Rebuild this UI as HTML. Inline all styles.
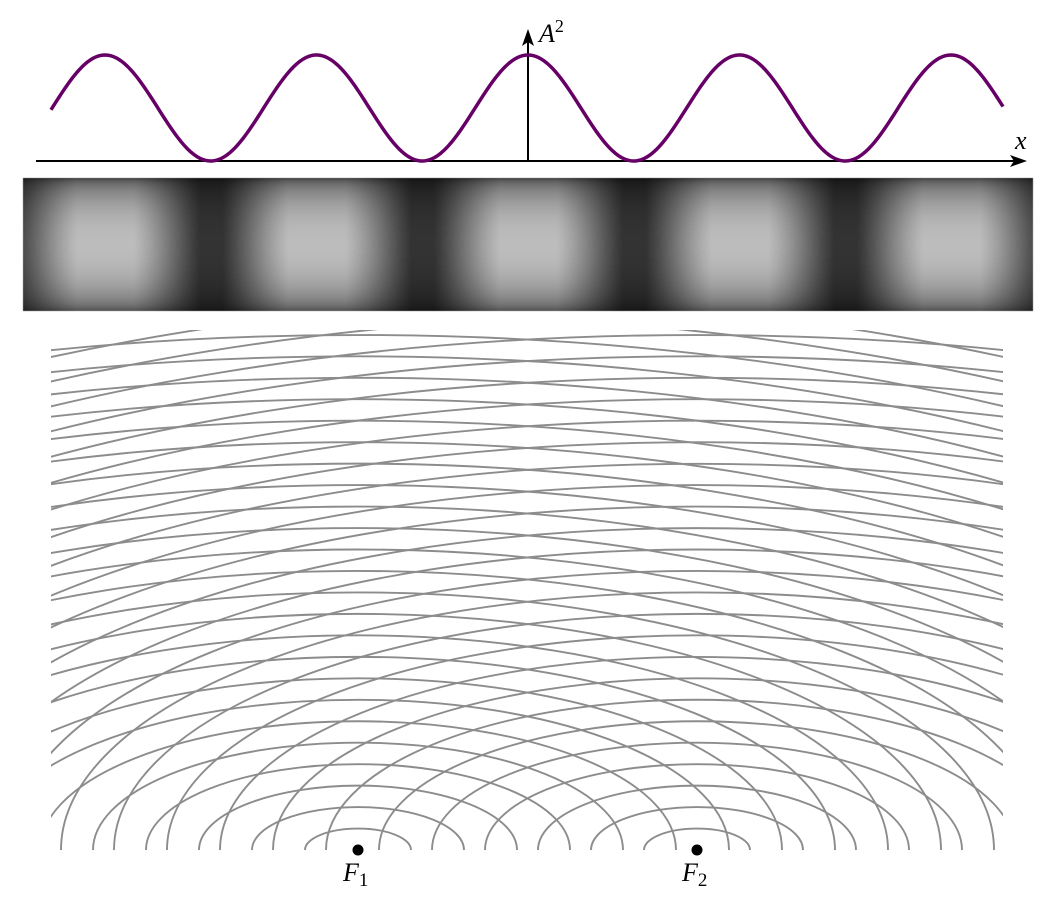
<!DOCTYPE html>
<html><head><meta charset="utf-8">
<style>
html,body{margin:0;padding:0;background:#fff;}
#wrap{position:relative;width:1057px;height:908px;overflow:hidden;}
svg,canvas{position:absolute;left:0;top:0;}
.lbl{font-family:"Liberation Serif",serif;font-style:italic;font-size:26px;fill:#000;}
</style></head>
<body>
<div id="wrap">
<canvas id="band" width="1057" height="908"></canvas>
<svg id="svg" width="1057" height="908">
  <defs><clipPath id="clip"><rect x="51" y="330" width="952" height="520"/></clipPath></defs>
  <g id="rings" clip-path="url(#clip)"></g>
  <g id="topplot"></g>
</svg>
</div>
<script>
// data
const sources = [358, 697];
const sourceLabels = ["F", "F"];
const sourceSubs = ["1", "2"];
const ringCount = [26];
const ringStep = [53];
const ringAspect = [0.405];
const fringePeriod = [211.5];
const centerX = [528];

const NS = "http://www.w3.org/2000/svg";
function mk(tag, attrs, parent){const e=document.createElementNS(NS,tag);for(const k in attrs)e.setAttribute(k,attrs[k]);parent.appendChild(e);return e;}
const baseY = 850;
const rings = document.getElementById('rings');
sources.forEach((sx, si) => {
  for (let n = 1; n <= ringCount[0]; n++) {
    const rx = n * ringStep[0], ry = rx * ringAspect[0];
    const p = mk('path', {d:`M${sx-rx},${baseY} A${rx},${ry} 0 0 1 ${sx+rx},${baseY}`, fill:'none', stroke:'#8c8c8c', 'stroke-width':'1.9'}, rings);
    
    
  }
});
const svgEl = document.getElementById('svg');
sources.forEach((sx, si) => {
  const c = mk('circle', {cx:sx, cy:baseY, r:5.5, fill:'#000'}, svgEl);
  
  
  const t = mk('text', {x:sx-15, y:baseY+31, class:'lbl'}, svgEl);
  
  
  t.textContent = sourceLabels[si];
  const s = mk('tspan', {dy:5, 'font-size':19, 'font-style':'normal'}, t);
  s.textContent = sourceSubs[si];
});

const topG = document.getElementById('topplot');
const axY = 161, ampTop = 55;
function yOf(x){const c=Math.cos(Math.PI*(x-centerX[0])/fringePeriod[0]);return axY-(axY-ampTop)*c*c;}
let d = '';
for (let x = 51; x <= 1004; x += 2) d += (x===51?'M':'L') + x + ',' + yOf(x).toFixed(2) + ' ';
const ax = mk('path', {d:`M36,${axY} H1018`, stroke:'#000', 'stroke-width':'2', fill:'none'}, topG);
 
const ah = mk('path', {d:`M1027,${axY} L1010,${axY-6} L1014,${axY} L1010,${axY+6} Z`, fill:'#000'}, topG);
 
const ay = mk('path', {d:`M528,${axY} V38`, stroke:'#000', 'stroke-width':'2', fill:'none'}, topG);
 
const ayh = mk('path', {d:`M528,29 L522,46 L528,42 L534,46 Z`, fill:'#000'}, topG);
 
const curve = mk('path', {d:d, stroke:'#660066', 'stroke-width':'3.5', fill:'none'}, topG);
 
const xl = mk('text', {x:1015, y:149, class:'lbl'}, topG);
 
xl.textContent = 'x';
const yl = mk('text', {x:539, y:42, class:'lbl'}, topG);
 
yl.textContent = 'A';
const ys = mk('tspan', {dy:-10, 'font-size':18, 'font-style':'normal'}, yl); ys.textContent = '2';

const cv = document.getElementById('band'), ctx = cv.getContext('2d');
const bx0=23, bx1=1033, by0=178, by1=311;
const img = ctx.createImageData(bx1-bx0, by1-by0);
for (let y = by0; y < by1; y++) {
  const v = (y - by0) / (by1 - by0);
  const vf = Math.pow(Math.sin(Math.PI * v), 0.45);
  for (let x = bx0; x < bx1; x++) {
    let c = Math.cos(Math.PI*(x-centerX[0])/fringePeriod[0]); c = c*c;
    c = Math.pow(c, 0.7);
    c = Math.min(1, Math.max(0, (c - 0.08) / 0.8));
    const g = (0.2 + 0.54*c) * (0.3 + 0.7*vf);
    const val = Math.round(255 * g);
    const i = ((y-by0)*(bx1-bx0) + (x-bx0))*4;
    img.data[i]=img.data[i+1]=img.data[i+2]=val; img.data[i+3]=255;
  }
}
ctx.putImageData(img, bx0, by0);
</script>
</body></html>
